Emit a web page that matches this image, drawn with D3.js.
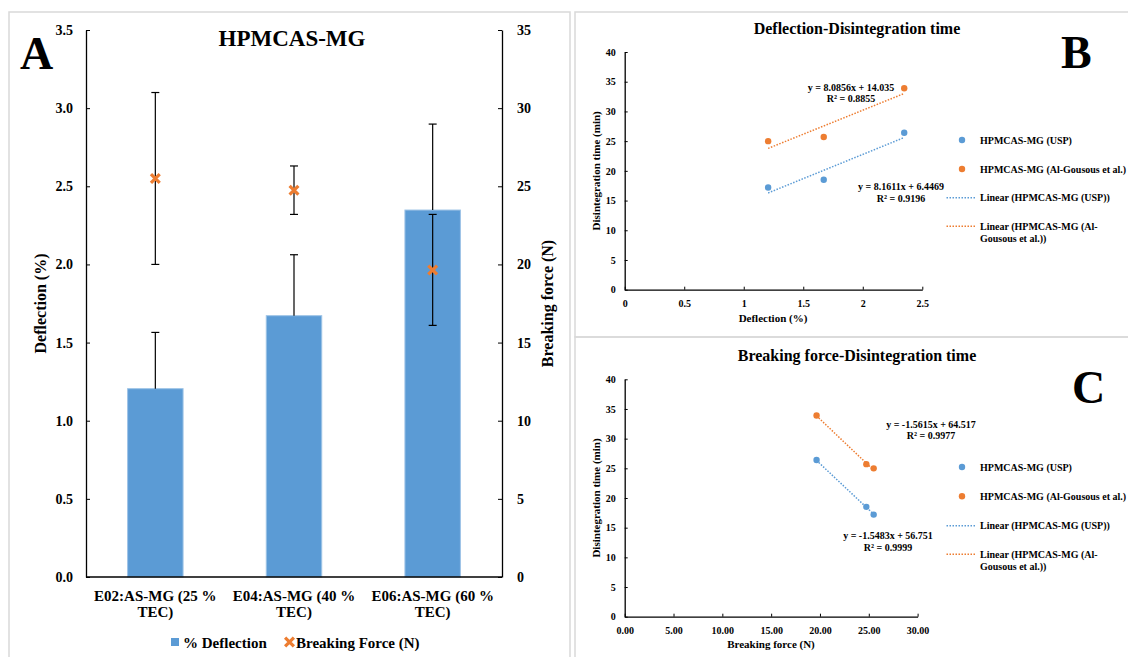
<!DOCTYPE html>
<html>
<head>
<meta charset="utf-8">
<script src="https://cdn.jsdelivr.net/npm/d3@7"></script>
<style>
    body { margin: 0; background: #fff; }
    svg text { font-family: "Liberation Serif", "Times New Roman", serif; font-weight: bold; fill: #000; }
    .axis path, .axis line { stroke: #000; }
</style>
</head>
<body>
<script>

//Chart data
var categories = ["E02:AS-MG (25 % TEC)", "E04:AS-MG (40 % TEC)", "E06:AS-MG (60 % TEC)"];
var deflection = [1.205, 1.672, 2.348];
var deflectionErr = [0.36, 0.39, 0.55];
var breakingForce = [25.5, 24.75, 19.65];
var breakingForceErr = [5.5, 1.55, 3.55];

var seriesNames = ["HPMCAS-MG (USP)", "HPMCAS-MG (Al-Gousous et al.)"];
var disintUSP = [17.2, 18.5, 26.4];
var disintAlG = [25.0, 25.7, 33.9];

//Trendline equations as printed on the chart: [slope, intercept, R2]
var fitDeflection = [[8.1611, 6.4469, 0.9196], [8.0856, 14.035, 0.8855]];
var fitForce = [[-1.5483, 56.751, 0.9999], [-1.5615, 64.517, 0.9977]];

//Tick labels
var ticksDeflection = [0, 0.5, 1.0, 1.5, 2.0, 2.5, 3.0, 3.5];
var ticksForce = [0, 5, 10, 15, 20, 25, 30, 35];
var ticksTime = [0, 5, 10, 15, 20, 25, 30, 35, 40];
var ticksDeflX = [0, 0.5, 1, 1.5, 2, 2.5];
var ticksForceX = [0, 5, 10, 15, 20, 25, 30];


var blue = "#5B9BD5";
var orange = "#ED7D31";

var svg = d3.select("body").append("svg")
    .attr("width", 1128)
    .attr("height", 657);

//Panel borders
svg.append("rect").attr("x", 9).attr("y", 12).attr("width", 561).attr("height", 660)
    .style("fill", "none").style("stroke", "#d9d9d9").style("stroke-width", 1.5);
svg.append("rect").attr("x", 575).attr("y", 12).attr("width", 570).attr("height", 325)
    .style("fill", "none").style("stroke", "#d9d9d9").style("stroke-width", 1.5);
svg.append("rect").attr("x", 575).attr("y", 337).attr("width", 570).attr("height", 340)
    .style("fill", "none").style("stroke", "#d9d9d9").style("stroke-width", 1.5);


// ---------------- Panel A ----------------
var a = { left: 86, right: 502, top: 30, bottom: 577 };

var x = d3.scaleBand()
    .domain(categories)
    .range([a.left, a.right]);

var yL = d3.scaleLinear().domain([0, 3.5]).range([a.bottom, a.top]);
var yR = d3.scaleLinear().domain([0, 35]).range([a.bottom, a.top]);

var barW = x.bandwidth() * 0.4;

//bars
svg.selectAll(".bar")
    .data(deflection)
    .enter()
        .append("rect")
        .classed("bar", true)
        .attr("x", function(d, i) { return x(categories[i]) + x.bandwidth() / 2 - barW / 2; })
        .attr("y", function(d) { return yL(d); })
        .attr("width", barW)
        .attr("height", function(d) { return yL(0) - yL(d); })
        .style("fill", blue)
        .style("stroke", "#9DC3E6")
        .style("stroke-width", 1);

//deflection error bars (plus only)
deflection.forEach(function(d, i) {
    var cx = x(categories[i]) + x.bandwidth() / 2;
    var g = svg.append("g").style("stroke", "#000").style("stroke-width", 1.2);
    g.append("line").attr("x1", cx).attr("x2", cx).attr("y1", yL(d)).attr("y2", yL(d + deflectionErr[i]));
    g.append("line").attr("x1", cx - 4).attr("x2", cx + 4)
        .attr("y1", yL(d + deflectionErr[i])).attr("y2", yL(d + deflectionErr[i]));
});

//breaking force error bars
breakingForce.forEach(function(d, i) {
    var cx = x(categories[i]) + x.bandwidth() / 2;
    var hi = yR(d + breakingForceErr[i]), lo = yR(d - breakingForceErr[i]);
    var g = svg.append("g").style("stroke", "#000").style("stroke-width", 1.2);
    g.append("line").attr("x1", cx).attr("x2", cx).attr("y1", hi).attr("y2", lo);
    g.append("line").attr("x1", cx - 4).attr("x2", cx + 4).attr("y1", hi).attr("y2", hi);
    g.append("line").attr("x1", cx - 4).attr("x2", cx + 4).attr("y1", lo).attr("y2", lo);
});

//breaking force markers
var xSym = d3.symbol().type(d3.symbolX).size(52);
svg.selectAll(".force")
    .data(breakingForce)
    .enter()
        .append("path")
        .classed("force", true)
        .attr("d", xSym)
        .attr("transform", function(d, i) {
            return "translate(" + (x(categories[i]) + x.bandwidth() / 2) + "," + yR(d) + ")";
        })
        .style("fill", "none")
        .style("stroke", orange)
        .style("stroke-width", 3.2);

//axes
var axL = svg.append("g")
    .classed("axis", true)
    .attr("transform", "translate(" + a.left + ",0)")
    .call(d3.axisLeft(yL).tickValues(ticksDeflection).tickFormat(d3.format(".1f"))
        .tickSizeInner(-4).tickSizeOuter(0).tickPadding(13));

var axR = svg.append("g")
    .classed("axis", true)
    .attr("transform", "translate(" + a.right + ",0)")
    .call(d3.axisRight(yR).tickValues(ticksForce)
        .tickSizeInner(-4).tickSizeOuter(0).tickPadding(15));

[axL, axR].forEach(function(ax) {
    ax.select(".domain").style("stroke-width", 1.3);
    ax.selectAll("text").style("font-size", "14px");
});

svg.append("line")
    .attr("x1", a.left).attr("x2", a.right)
    .attr("y1", a.bottom).attr("y2", a.bottom)
    .style("stroke", "#000").style("stroke-width", 1.5);

//category labels on two lines
categories.forEach(function(c, i) {
    var k = c.indexOf(" TEC");
    var t = svg.append("text")
        .attr("text-anchor", "middle")
        .style("font-size", "15px");
    t.append("tspan").attr("x", x(c) + x.bandwidth() / 2).attr("y", 601).text(c.slice(0, k));
    t.append("tspan").attr("x", x(c) + x.bandwidth() / 2).attr("y", 617).text(c.slice(k + 1));
});

//titles
svg.append("text").attr("x", 292).attr("y", 46).attr("text-anchor", "middle")
    .style("font-size", "23px").text("HPMCAS-MG");
svg.append("text").attr("x", 20).attr("y", 69)
    .style("font-size", "46px").text("A");

svg.append("text")
    .attr("transform", "translate(40," + ((a.top + a.bottom) / 2) + ") rotate(-90)")
    .attr("text-anchor", "middle").attr("dominant-baseline", "central")
    .style("font-size", "16px").text("Deflection (%)");
svg.append("text")
    .attr("transform", "translate(547," + ((a.top + a.bottom) / 2) + ") rotate(-90)")
    .attr("text-anchor", "middle").attr("dominant-baseline", "central")
    .style("font-size", "16px").text("Breaking force (N)");

//legend A
svg.append("rect").attr("x", 171).attr("y", 638).attr("width", 8).attr("height", 8)
    .style("fill", blue);
svg.append("text").attr("x", 183).attr("y", 648).style("font-size", "15px").text("% Deflection");
svg.append("path").attr("d", xSym).attr("transform", "translate(289.5,642)")
    .style("fill", "none").style("stroke", orange).style("stroke-width", 3.2);
svg.append("text").attr("x", 296).attr("y", 648).style("font-size", "15px").text("Breaking Force (N)");


// ---------------- Panels B and C ----------------
var scatter = function(cfg) {

    var sx = d3.scaleLinear().domain(cfg.xDomain).range(cfg.xRange);
    var sy = d3.scaleLinear().domain([0, 40]).range(cfg.yRange);

    var g = svg.append("g");

    //axes
    var ax = g.append("g")
        .classed("axis", true)
        .attr("transform", "translate(0," + cfg.yRange[0] + ")")
        .call(d3.axisBottom(sx).tickValues(cfg.xTicks).tickFormat(cfg.xFormat)
            .tickSizeInner(-3).tickSizeOuter(0).tickPadding(10));
    var ay = g.append("g")
        .classed("axis", true)
        .attr("transform", "translate(" + cfg.xRange[0] + ",0)")
        .call(d3.axisLeft(sy).tickValues(ticksTime)
            .tickSizeInner(-3).tickSizeOuter(0).tickPadding(9));
    [ax, ay].forEach(function(s) {
        s.select(".domain").style("stroke-width", 1.3);
        s.selectAll("text").style("font-size", "10px");
    });

    var ys = [disintUSP, disintAlG];
    var cols = [blue, orange];

    //trendlines
    cfg.fits.forEach(function(f, k) {
        var ext = d3.extent(cfg.xValues);
        g.append("path")
            .datum(ext)
            .attr("d", d3.line()
                .x(function(d) { return sx(d); })
                .y(function(d) { return sy(f[0] * d + f[1]); }))
            .style("fill", "none")
            .style("stroke", cols[k])
            .style("stroke-width", 1.5)
            .style("stroke-dasharray", "1.5,1.5");
    });

    //points
    ys.forEach(function(vals, k) {
        g.selectAll(".pt" + k)
            .data(vals)
            .enter()
                .append("circle")
                .attr("cx", function(d, i) { return sx(cfg.xValues[i]); })
                .attr("cy", function(d) { return sy(d); })
                .attr("r", 3.2)
                .style("fill", cols[k]);
    });

    //equations
    cfg.fits.forEach(function(f, k) {
        var p = cfg.eqPos[k];
        var t = g.append("text").attr("text-anchor", "middle").style("font-size", "10px");
        t.append("tspan").attr("x", p[0]).attr("y", p[1])
            .text("y = " + f[0] + "x + " + f[1]);
        t.append("tspan").attr("x", p[0]).attr("y", p[1] + 11.7)
            .text("R\u00b2 = " + f[2]);
    });

    //titles
    g.append("text").attr("x", 857).attr("y", cfg.titleY).attr("text-anchor", "middle")
        .style("font-size", "16px").text(cfg.title);
    g.append("text").attr("x", cfg.letterX).attr("y", cfg.letterY)
        .style("font-size", "46px").text(cfg.letter);
    g.append("text").attr("x", cfg.xLabelX).attr("y", cfg.xLabelY).attr("text-anchor", "middle")
        .style("font-size", "11px").text(cfg.xLabel);
    g.append("text")
        .attr("transform", "translate(595.6," + ((cfg.yRange[0] + cfg.yRange[1]) / 2) + ") rotate(-90)")
        .attr("text-anchor", "middle").attr("dominant-baseline", "central")
        .style("font-size", "11px").text("Disintegration time (min)");

    //legend
    var ly = cfg.legendY;
    seriesNames.forEach(function(n, k) {
        g.append("circle").attr("cx", 962).attr("cy", ly[k]).attr("r", 3.2).style("fill", cols[k]);
        g.append("text").attr("x", 980).attr("y", ly[k] + 3.5).style("font-size", "10px").text(n);
        g.append("line").attr("x1", 946.5).attr("x2", 975.7)
            .attr("y1", ly[k + 2]).attr("y2", ly[k + 2])
            .style("stroke", cols[k]).style("stroke-width", 1.5).style("stroke-dasharray", "1.5,1.5");
    });
    g.append("text").attr("x", 980).attr("y", ly[2] + 3.5).style("font-size", "10px")
        .text("Linear (" + seriesNames[0] + ")");
    var t2 = g.append("text").style("font-size", "10px");
    t2.append("tspan").attr("x", 980).attr("y", ly[3] + 3.5).text("Linear (HPMCAS-MG (Al-");
    t2.append("tspan").attr("x", 980).attr("y", ly[3] + 15.5).text("Gousous et al.))");

} //End scatter function


scatter({
    xDomain: [0, 2.5], xRange: [624.7, 922.3], yRange: [289.7, 52],
    xTicks: ticksDeflX, xFormat: d3.format(""), xValues: deflection,
    fits: fitDeflection, eqPos: [[901, 190], [851, 90.7]],
    title: "Deflection-Disintegration time", titleY: 34,
    letter: "B", letterX: 1061, letterY: 68,
    xLabel: "Deflection (%)", xLabelX: 773, xLabelY: 322,
    legendY: [140, 169, 197.7, 226.3]
});

scatter({
    xDomain: [0, 30], xRange: [624.7, 917.6], yRange: [616.7, 379.3],
    xTicks: ticksForceX, xFormat: d3.format(".2f"), xValues: breakingForce,
    fits: fitForce, eqPos: [[888, 539], [931, 427.7]],
    title: "Breaking force-Disintegration time", titleY: 361,
    letter: "C", letterX: 1072, letterY: 403,
    xLabel: "Breaking force (N)", xLabelX: 771, xLabelY: 648,
    legendY: [467, 496.3, 525.7, 554.3]
});

</script>
</body>
</html>
